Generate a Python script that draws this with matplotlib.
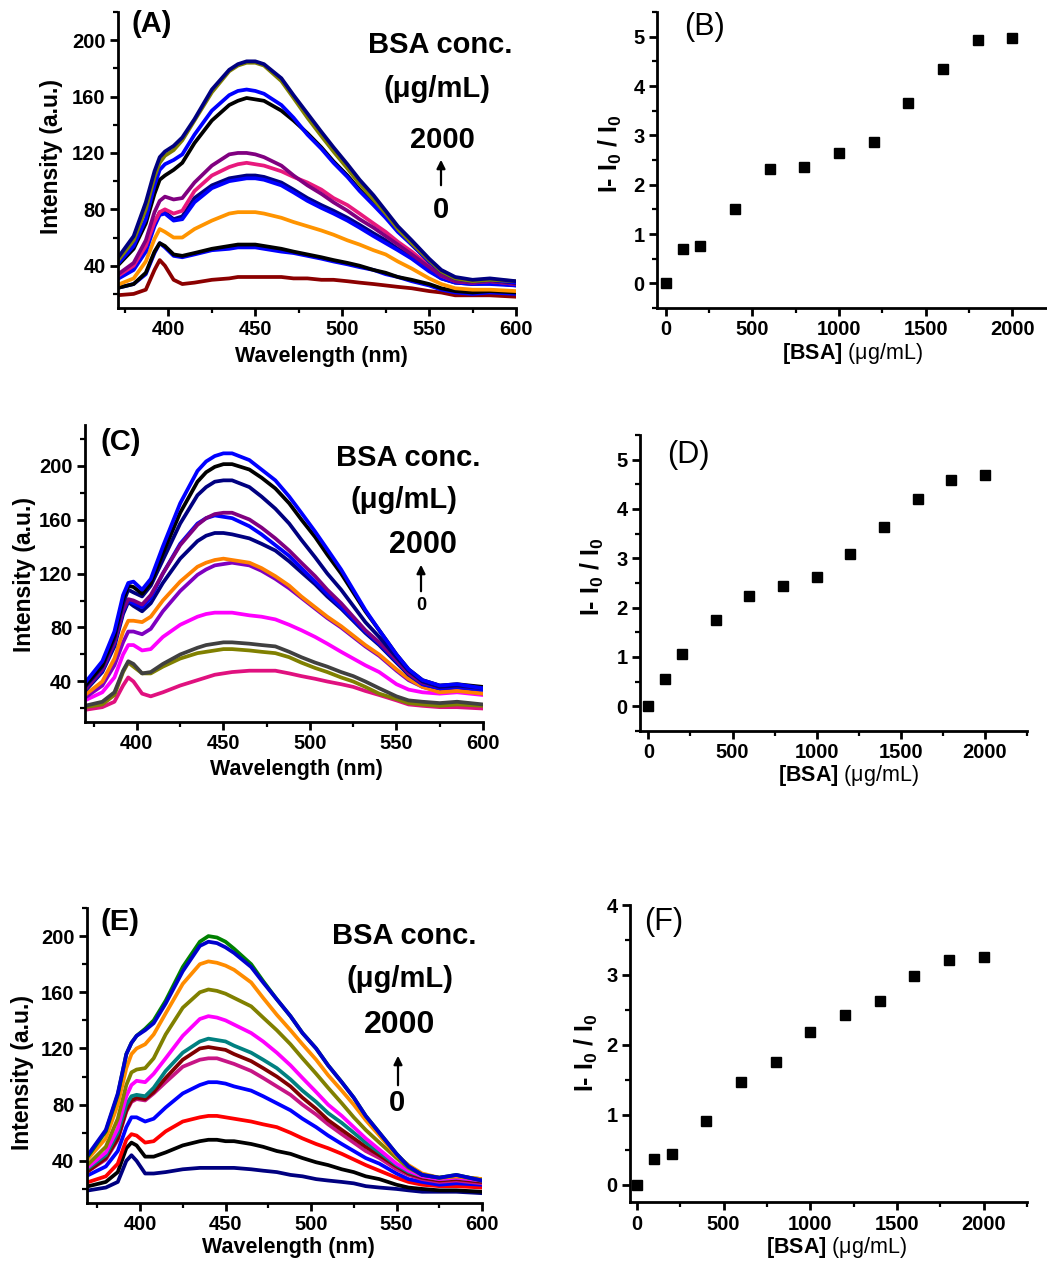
import matplotlib
matplotlib.use("Agg")
import matplotlib.pyplot as plt
from matplotlib.ticker import MultipleLocator

# ---------------- data ----------------
wavelength = [370, 380, 387, 392, 395, 398, 403, 408, 415, 425, 435, 440, 445,
              450, 455, 465, 472, 480, 488, 495, 503, 510, 518, 525, 532, 540,
              550, 557, 565, 575, 585, 600]

bsa_conc = [0, 100, 200, 400, 600, 800, 1000, 1200, 1400, 1600, 1800, 2000]

# Panel A spectra (0 -> 2000 ug/mL)
spec_a = [
    [19, 20, 23, 37, 44, 40, 30, 27, 28, 30, 31, 32, 32, 32, 32, 32, 31, 31, 30, 30, 29, 28, 27, 26, 25, 24, 22, 21, 19, 19, 19, 18],
    [24, 27, 34, 49, 56, 53, 47, 46, 48, 51, 52, 53, 53, 53, 52, 50, 49, 47, 45, 43, 41, 39, 37, 34, 32, 29, 26, 23, 21, 20, 21, 20],
    [24, 27, 35, 50, 56, 54, 48, 47, 49, 52, 54, 55, 55, 55, 54, 52, 50, 48, 46, 44, 42, 40, 37, 35, 32, 30, 27, 24, 22, 21, 22, 21],
    [26, 31, 43, 59, 66, 64, 60, 60, 66, 72, 77, 78, 78, 78, 77, 74, 71, 68, 65, 62, 58, 55, 51, 48, 43, 38, 31, 27, 24, 23, 23, 22],
    [31, 38, 52, 70, 78, 78, 73, 75, 88, 97, 102, 103, 104, 104, 103, 99, 94, 88, 83, 79, 74, 69, 63, 58, 52, 46, 37, 31, 28, 27, 28, 26],
    [30, 37, 50, 68, 76, 77, 72, 73, 85, 95, 100, 101, 102, 102, 101, 97, 92, 86, 81, 77, 72, 67, 61, 56, 51, 45, 36, 31, 28, 27, 27, 26],
    [32, 40, 54, 71, 78, 80, 77, 79, 93, 104, 110, 112, 113, 112, 111, 107, 103, 99, 94, 88, 83, 77, 70, 64, 57, 50, 40, 33, 29, 28, 29, 27],
    [33, 42, 58, 78, 86, 89, 87, 88, 99, 111, 119, 120, 120, 119, 117, 111, 104, 97, 91, 85, 79, 73, 67, 61, 55, 48, 39, 33, 29, 28, 29, 27],
    [39, 52, 70, 91, 101, 104, 108, 113, 127, 143, 154, 157, 159, 158, 157, 150, 143, 134, 124, 114, 104, 94, 84, 75, 65, 55, 43, 36, 31, 29, 30, 28],
    [40, 54, 73, 97, 108, 112, 115, 119, 133, 150, 161, 164, 165, 164, 162, 154, 145, 133, 123, 113, 103, 93, 83, 74, 64, 55, 43, 36, 31, 29, 30, 28],
    [42, 58, 80, 103, 113, 118, 122, 129, 143, 163, 178, 182, 184, 184, 182, 171, 159, 145, 132, 121, 109, 98, 87, 77, 66, 56, 44, 36, 31, 29, 30, 29],
    [44, 61, 85, 107, 117, 121, 125, 131, 144, 165, 179, 183, 185, 185, 183, 173, 161, 148, 135, 124, 112, 101, 90, 79, 68, 58, 45, 37, 32, 30, 31, 29],
]
colors_a = ['#8b0000', '#0000ff', '#000000', '#ff9400', '#000080', '#0000ff',
            '#e8197d', '#800080', '#000000', '#0000ff', '#808000', '#000080']

# Panel C spectra
spec_c = [
    [19, 21, 25, 37, 43, 40, 31, 29, 32, 37, 41, 43, 45, 46, 47, 48, 48, 48, 46, 44, 42, 40, 38, 36, 33, 30, 26, 23, 22, 21, 21, 20],
    [21, 23, 30, 47, 54, 51, 46, 46, 51, 57, 61, 62, 63, 64, 64, 63, 62, 61, 58, 54, 50, 47, 43, 40, 36, 31, 27, 24, 23, 22, 23, 22],
    [22, 25, 32, 48, 55, 53, 46, 47, 53, 60, 65, 67, 68, 69, 69, 68, 67, 66, 62, 58, 54, 51, 47, 44, 40, 35, 29, 26, 25, 24, 25, 23],
    [26, 32, 43, 60, 67, 67, 63, 64, 73, 82, 88, 90, 91, 91, 91, 89, 88, 86, 82, 78, 73, 68, 62, 57, 52, 47, 38, 34, 32, 31, 32, 30],
    [28, 37, 52, 69, 77, 77, 75, 79, 92, 107, 119, 123, 126, 127, 128, 126, 122, 116, 109, 102, 94, 87, 80, 73, 66, 59, 48, 41, 36, 33, 34, 31],
    [30, 40, 57, 77, 85, 85, 84, 88, 100, 114, 125, 128, 130, 131, 130, 128, 124, 118, 111, 103, 95, 88, 81, 74, 67, 60, 49, 42, 36, 32, 33, 31],
    [33, 47, 66, 90, 99, 96, 92, 98, 113, 131, 144, 148, 150, 150, 149, 146, 142, 137, 129, 121, 112, 103, 94, 85, 76, 67, 54, 45, 38, 35, 36, 34],
    [34, 48, 68, 92, 100, 98, 95, 102, 120, 142, 157, 161, 163, 162, 161, 155, 149, 141, 133, 124, 114, 105, 95, 86, 77, 68, 55, 46, 38, 35, 36, 34],
    [34, 49, 69, 93, 101, 100, 97, 104, 120, 141, 156, 161, 164, 165, 165, 160, 154, 146, 137, 128, 118, 108, 98, 88, 78, 69, 56, 46, 39, 36, 37, 35],
    [36, 51, 72, 98, 108, 106, 103, 111, 130, 157, 178, 184, 188, 189, 189, 184, 177, 168, 157, 145, 132, 120, 108, 96, 84, 73, 58, 48, 40, 36, 37, 35],
    [37, 52, 74, 101, 111, 110, 105, 113, 135, 165, 188, 195, 199, 201, 201, 197, 191, 183, 172, 160, 147, 134, 120, 106, 92, 78, 60, 49, 41, 37, 38, 36],
    [39, 55, 77, 104, 113, 114, 108, 116, 140, 172, 196, 203, 207, 209, 209, 204, 197, 189, 177, 165, 151, 138, 123, 108, 93, 78, 60, 49, 41, 37, 38, 35],
]
colors_c = ['#e0117f', '#808000', '#404040', '#ff00ff', '#7f00c0', '#ff8000',
            '#000080', '#0000ff', '#800080', '#000080', '#000000', '#0000ff']

# Panel E spectra
spec_e = [
    [19, 21, 25, 40, 44, 40, 31, 31, 32, 34, 35, 35, 35, 35, 35, 34, 33, 32, 30, 29, 27, 26, 25, 24, 22, 21, 20, 19, 18, 18, 18, 17],
    [22, 25, 32, 49, 53, 51, 43, 43, 46, 51, 54, 55, 55, 54, 54, 52, 50, 47, 45, 42, 39, 37, 34, 32, 29, 27, 23, 21, 20, 19, 19, 18],
    [25, 29, 38, 55, 59, 58, 53, 54, 61, 68, 71, 72, 72, 71, 70, 68, 66, 64, 60, 56, 52, 49, 45, 41, 37, 33, 28, 25, 23, 22, 22, 21],
    [30, 36, 47, 64, 71, 71, 68, 70, 78, 88, 94, 96, 96, 95, 93, 90, 86, 81, 76, 70, 64, 58, 52, 47, 42, 38, 31, 27, 25, 23, 24, 23],
    [33, 41, 55, 75, 82, 84, 83, 88, 96, 107, 112, 113, 113, 111, 109, 104, 99, 93, 87, 80, 73, 66, 59, 53, 47, 42, 34, 30, 27, 25, 26, 24],
    [33, 42, 56, 76, 83, 85, 84, 89, 99, 112, 120, 121, 120, 119, 116, 111, 106, 100, 93, 85, 77, 69, 62, 56, 50, 44, 36, 31, 28, 26, 27, 25],
    [35, 44, 60, 80, 86, 87, 86, 92, 104, 117, 125, 127, 126, 125, 122, 117, 112, 106, 98, 90, 82, 74, 67, 60, 53, 46, 37, 32, 29, 27, 28, 26],
    [36, 46, 63, 86, 94, 97, 96, 102, 113, 129, 141, 143, 142, 140, 137, 131, 125, 117, 108, 99, 89, 80, 72, 64, 56, 48, 38, 33, 29, 27, 28, 26],
    [38, 50, 70, 94, 103, 105, 106, 113, 130, 149, 160, 162, 161, 159, 156, 150, 142, 133, 123, 113, 102, 92, 81, 71, 62, 53, 42, 35, 30, 28, 29, 27],
    [42, 56, 80, 106, 116, 120, 123, 130, 145, 166, 180, 182, 181, 179, 176, 167, 156, 144, 133, 123, 112, 101, 90, 80, 69, 58, 44, 37, 31, 28, 29, 27],
    [44, 61, 87, 116, 124, 129, 134, 140, 154, 178, 196, 200, 199, 196, 191, 180, 168, 155, 143, 131, 120, 108, 96, 85, 72, 60, 45, 36, 30, 28, 30, 26],
    [45, 62, 88, 116, 124, 129, 133, 138, 152, 175, 193, 196, 195, 192, 188, 178, 167, 155, 143, 131, 120, 108, 96, 85, 72, 60, 45, 36, 30, 28, 30, 26],
]
colors_e = ['#000080', '#000000', '#ff0000', '#0000ff', '#c71585', '#800000',
            '#008080', '#ff00ff', '#808000', '#ff8c00', '#008000', '#0000cd']

# Relative enhancement (I - I0) / I0
ratio_b = [0.0, 0.69, 0.75, 1.50, 2.31, 2.36, 2.65, 2.86, 3.66, 4.34, 4.93, 4.97]
ratio_d = [0.0, 0.56, 1.07, 1.74, 2.24, 2.43, 2.62, 3.08, 3.63, 4.20, 4.59, 4.69]
ratio_f = [0.0, 0.36, 0.44, 0.91, 1.47, 1.75, 2.18, 2.42, 2.62, 2.98, 3.22, 3.26]

# ---------------- style ----------------
plt.rcParams['font.family'] = ['Liberation Sans', 'DejaVu Sans']
plt.rcParams['font.weight'] = 'bold'
plt.rcParams['mathtext.fontset'] = 'custom'
plt.rcParams['mathtext.rm'] = 'Liberation Sans'
plt.rcParams['mathtext.bf'] = 'Liberation Sans:bold'
plt.rcParams['mathtext.it'] = 'Liberation Sans:italic'

W_PX, H_PX = 1047, 1262
fig = plt.figure(figsize=(W_PX / 100, H_PX / 100), dpi=100)


def box(left, top, right, bottom):
    return [left / W_PX, 1 - bottom / H_PX, (right - left) / W_PX, (bottom - top) / H_PX]


def fp(x, y):
    return (x / W_PX, 1 - y / H_PX)


def style(ax, xmaj, xmin, ymaj, ymin):
    for s in ('top', 'right'):
        ax.spines[s].set_visible(False)
    for s in ('left', 'bottom'):
        ax.spines[s].set_linewidth(2.0)
    ax.xaxis.set_major_locator(MultipleLocator(xmaj))
    ax.xaxis.set_minor_locator(MultipleLocator(xmin))
    ax.yaxis.set_major_locator(MultipleLocator(ymaj))
    ax.yaxis.set_minor_locator(MultipleLocator(ymin))
    ax.tick_params(which='major', direction='out', length=6, width=2.0,
                   labelsize=14.5, pad=3)
    ax.tick_params(which='minor', direction='out', length=3.5, width=1.6)


def text(x, y, s, size, **kw):
    fig.text(*fp(x, y), s, fontsize=size, ha='center', va='center', **kw)


def arrow(x, y0, y1):
    fig.add_artist(matplotlib.patches.FancyArrowPatch(
        fp(x, y0), fp(x, y1), transform=fig.transFigure,
        arrowstyle='-|>,head_length=5,head_width=2.5', lw=1.6, color='black'))


def spectra_panel(rect, curves, colors, xlim, ylim, tag, tagpos, ylab, xlab,
                  conc_text):
    ax = fig.add_axes(box(*rect))
    for vals, c in zip(curves, colors):
        ax.plot(wavelength, vals, color=c, lw=2.7, solid_joinstyle='round')
    ax.set_xlim(*xlim)
    ax.set_ylim(*ylim)
    style(ax, 50, 25, 40, 20)
    text(*tagpos, tag, 21)
    text(*ylab, 'Intensity (a.u.)', 16.5, rotation=90)
    text(*xlab, 'Wavelength (nm)', 15.5)
    (bx, by), (ux, uy), (tx, ty), (ax_x, a0, a1), (zx, zy, zsize), tsize = conc_text
    text(bx, by, 'BSA conc.', 21)
    text(ux, uy, '(μg/mL)', 21)
    text(tx, ty, '2000', tsize)
    arrow(ax_x, a0, a1)
    text(zx, zy, '0', zsize)
    return ax


def ratio_panel(rect, vals, xlim, ylim, tag, tagpos, ylab, xlab):
    ax = fig.add_axes(box(*rect))
    ax.plot(bsa_conc, vals, ls='none', marker='s', ms=6.5, color='black')
    ax.set_xlim(*xlim)
    ax.set_ylim(*ylim)
    style(ax, 500, 250, 1, 0.5)
    text(*tagpos, tag, 22, fontweight='normal')
    text(*ylab, r'$\mathbf{I}$- $\mathbf{I_0}$ / $\mathbf{I_0}$', 18, rotation=90)
    text(*xlab, r'$\mathbf{[BSA]}$ (μg/mL)', 15.5, fontweight='normal')
    return ax


# ---------------- panels ----------------
spectra_panel((118, 12, 516, 308), spec_a, colors_a, (371, 600), (10, 220),
              '(A)', (152, 24), (52, 156), (321, 357),
              ((440, 45), (437, 89), (442, 140), (441, 188, 157),
               (441, 210, 21), 21))
ratio_panel((657, 12, 1047, 308), ratio_b, (-50, 2200), (-0.5, 5.5),
            '(B)', (704, 27), (610, 154), (852, 354))

spectra_panel((85, 425, 483, 722), spec_c, colors_c, (370, 600), (10, 230),
              '(C)', (121, 442), (25, 575), (296, 769),
              ((408, 458), (404, 500), (423, 545), (421, 594, 562),
               (421, 606, 13), 22))
ratio_panel((640, 435, 1027, 731), ratio_d, (-50, 2250), (-0.5, 5.5),
            '(D)', (688, 455), (592, 577), (848, 776))

spectra_panel((87, 908, 482, 1203), spec_e, colors_e, (369, 600), (10, 220),
              '(E)', (120, 922), (23, 1072), (288, 1248),
              ((404, 936), (400, 979), (400, 1025), (398, 1088, 1053),
               (397, 1103, 21), 23))
ratio_panel((630, 905, 1027, 1202), ratio_f, (-40, 2250), (-0.25, 4.0),
            '(F)', (664, 922), (586, 1053), (836, 1247))

fig.savefig('out.png', dpi=100)
